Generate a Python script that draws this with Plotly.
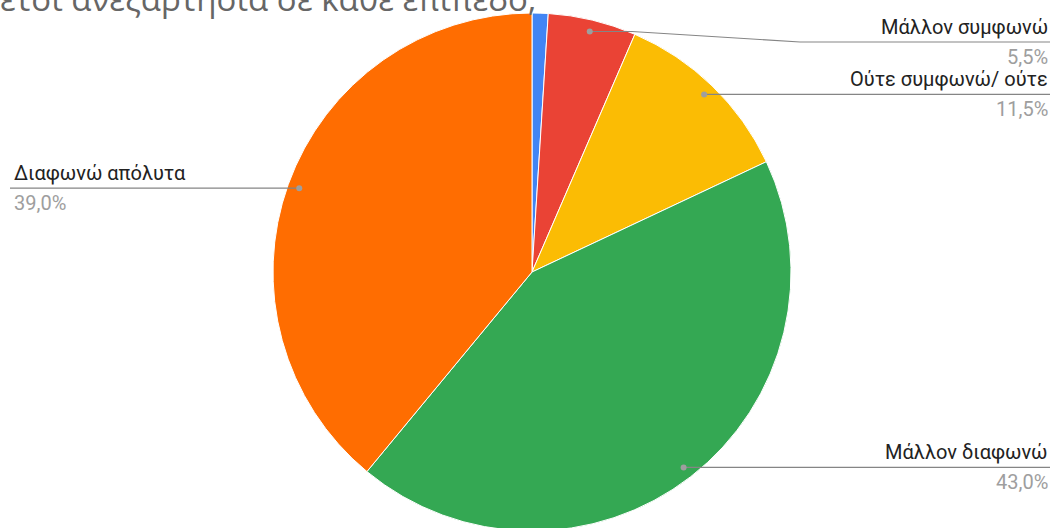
import math
import plotly.graph_objects as go

# ---- data ----
categories = ["Συμφωνώ απόλυτα", "Μάλλον συμφωνώ", "Ούτε συμφωνώ/ ούτε",
              "Μάλλον διαφωνώ", "Διαφωνώ απόλυτα"]
values = [1.0, 5.5, 11.5, 43.0, 39.0]
show_label = [False, True, True, True, True]
colors = ["#4285F4", "#EA4335", "#FBBC04", "#34A853", "#FF6D01"]
title_text = "ετσι ανεξαρτησία σε κάθε επίπεδο;"

# ---- layout geometry (pixels) ----
W, H = 1054, 540          # figure slightly taller than the window; bottom is cropped
cx, cy, R = 532, 272, 259
dot_r_frac = 0.955
label_right_x = 1050
label_left_x = 12
top_limit = 42
font_family = "Roboto, Arial, sans-serif"

def px(x):
    return x / W

def py(y):
    return 1 - y / H

fig = go.Figure()
fig.add_trace(go.Pie(
    labels=categories, values=values, sort=False, direction="clockwise",
    rotation=0, marker=dict(colors=colors, line=dict(color="white", width=1)),
    textinfo="none", hoverinfo="label+percent", showlegend=False,
    domain=dict(x=[px(cx - R), px(cx + R)], y=[py(cy + R), py(cy - R)]),
))

shapes = []
annotations = []
total = sum(values)
cum = 0.0
for cat, v, show in zip(categories, values, show_label):
    mid = (cum + v / 2) / total * 2 * math.pi
    cum += v
    if not show:
        continue
    dx = cx + R * dot_r_frac * math.sin(mid)
    dy = cy - R * dot_r_frac * math.cos(mid)
    ly = max(dy, top_limit)
    right = math.sin(mid) > 0
    if right:
        if abs(ly - dy) > 0.5:
            path = (f"M {px(dx)} {py(dy)} L {px(dx + 42)} {py(dy)} "
                    f"L {px(800)} {py(ly)} L {px(label_right_x)} {py(ly)}")
        else:
            path = f"M {px(dx)} {py(dy)} L {px(label_right_x)} {py(ly)}"
        tx, anchor = label_right_x, "right"
    else:
        path = f"M {px(dx)} {py(dy)} L {px(label_left_x - 2)} {py(ly)}"
        tx, anchor = label_left_x, "left"
    shapes.append(dict(type="path", path=path, xref="paper", yref="paper",
                       line=dict(color="#858585", width=1.2)))
    shapes.append(dict(type="circle", xref="paper", yref="paper",
                       x0=px(dx - 3), x1=px(dx + 3), y0=py(dy + 3), y1=py(dy - 3),
                       fillcolor="#9e9e9e", line=dict(width=0)))
    annotations.append(dict(x=px(tx), y=py(ly), xref="paper", yref="paper",
                            text=cat, showarrow=False, xanchor=anchor,
                            yanchor="bottom", yshift=1,
                            font=dict(family=font_family, size=20, color="#222222")))
    pct = f"{v / total * 100:.1f}%".replace(".", ",")
    annotations.append(dict(x=px(tx), y=py(ly), xref="paper", yref="paper",
                            text=pct, showarrow=False, xanchor=anchor,
                            yanchor="top", yshift=-1,
                            font=dict(family=font_family, size=20, color="#9e9e9e")))

annotations.append(dict(x=px(-2), y=py(23), xref="paper", yref="paper",
                        text=title_text, showarrow=False, xanchor="left",
                        yanchor="bottom",
                        font=dict(family="Open Sans, sans-serif", size=33,
                                  color="#666666")))

fig.update_layout(
    width=W, height=H, margin=dict(l=0, r=0, t=0, b=0),
    paper_bgcolor="white", plot_bgcolor="white",
    shapes=shapes, annotations=annotations,
)
fig.write_html("out.html", config={"displayModeBar": False},
               post_script="document.body.style.margin='0';document.body.style.overflow='hidden';")
